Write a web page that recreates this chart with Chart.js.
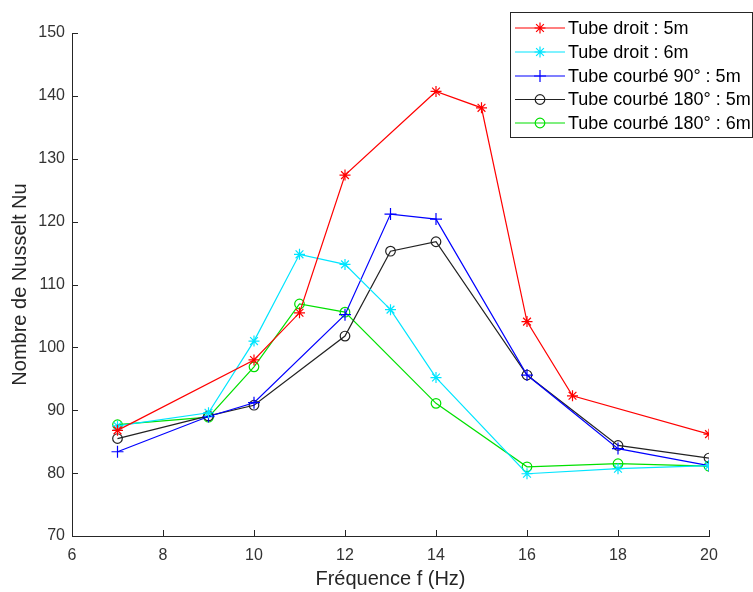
<!DOCTYPE html>
<html>
<head>
<meta charset="utf-8">
<script src="https://cdn.jsdelivr.net/npm/chart.js@4/dist/chart.umd.min.js"></script>
<style>
  html, body { margin: 0; padding: 0; background: #fff; }
  #wrap { width: 753px; height: 592px; }
</style>
</head>
<body>
<div id="wrap"><canvas id="nusseltChart" width="753" height="592"></canvas></div>
<script>
// Frequencies (Hz) and Nusselt values for each configuration
const xDroit5 = [7, 10, 11, 12, 14, 15, 16, 17, 20];
const yDroit5 = [86.8, 98.0, 105.5, 127.4, 140.7, 138.1, 104.1, 92.3, 86.2];

const xDroit6 = [7, 9, 10, 11, 12, 13, 14, 16, 18, 20];
const yDroit6 = [87.5, 89.6, 101.0, 114.8, 113.2, 106.0, 95.2, 79.9, 80.7, 81.2];

const xCourbe90 = [7, 9, 10, 12, 13, 14, 16, 18, 20];
const yCourbe90 = [83.4, 89.0, 91.2, 105.2, 121.2, 120.4, 95.6, 83.9, 81.2];

const xCourbe180_5 = [7, 9, 10, 12, 13, 14, 16, 18, 20];
const yCourbe180_5 = [85.5, 89.1, 90.8, 101.8, 115.3, 116.8, 95.6, 84.4, 82.4];

const xCourbe180_6 = [7, 9, 10, 11, 12, 14, 16, 18, 20];
const yCourbe180_6 = [87.7, 88.9, 96.9, 106.9, 105.6, 91.1, 81.0, 81.5, 81.1];

const seriesLabels = ['Tube droit : 5m', 'Tube droit : 6m', 'Tube courbé 90° : 5m', 'Tube courbé 180° : 5m', 'Tube courbé 180° : 6m'];
const xTicks = [6, 8, 10, 12, 14, 16, 18, 20];
const yTicks = [70, 80, 90, 100, 110, 120, 130, 140, 150];

const FONT = '"Liberation Sans", Arial, Helvetica, sans-serif';
const AXIS_COLOR = '#262626';

function pairs(xs, ys) {
  return xs.map((x, i) => ({ x: x, y: ys[i] }));
}

function makeSet(label, xs, ys, color, style, radius) {
  return {
    label: label,
    data: pairs(xs, ys),
    borderColor: color,
    backgroundColor: 'rgba(0,0,0,0)',
    borderWidth: 1.2,
    pointStyle: style,
    pointRadius: radius,
    pointBorderColor: color,
    pointBackgroundColor: 'rgba(0,0,0,0)',
    pointBorderWidth: 1.2,
    tension: 0
  };
}

const datasets = [
  makeSet(seriesLabels[0], xDroit5, yDroit5, '#ff0000', 'star', 5.5),
  makeSet(seriesLabels[1], xDroit6, yDroit6, '#00e5ff', 'star', 5.5),
  makeSet(seriesLabels[2], xCourbe90, yCourbe90, '#0000ff', 'cross', 6),
  makeSet(seriesLabels[3], xCourbe180_5, yCourbe180_5, '#222222', 'circle', 4.8),
  makeSet(seriesLabels[4], xCourbe180_6, yCourbe180_6, '#00e000', 'circle', 4.8)
];

// MATLAB-style inward ticks
const inwardTicks = {
  id: 'inwardTicks',
  afterDraw(chart) {
    const ctx = chart.ctx;
    const xs = chart.scales.x, ys = chart.scales.y;
    const area = chart.chartArea;
    ctx.save();
    ctx.strokeStyle = AXIS_COLOR;
    ctx.lineWidth = 1;
    ctx.beginPath();
    xTicks.forEach(v => {
      const px = Math.round(xs.getPixelForValue(v)) + 0.5;
      ctx.moveTo(px, area.bottom);
      ctx.lineTo(px, area.bottom - 6);
    });
    yTicks.forEach(v => {
      const py = Math.round(ys.getPixelForValue(v)) + 0.5;
      ctx.moveTo(area.left, py);
      ctx.lineTo(area.left + 6, py);
    });
    ctx.stroke();
    ctx.restore();
  }
};

// legend box drawn like the MATLAB one
const boxLegend = {
  id: 'boxLegend',
  afterDraw(chart) {
    const ctx = chart.ctx;
    const left = 510.5, top = 12.5, right = 752.5, bottom = 137.5;
    const rowY = [28, 52, 76, 99.5, 123];
    ctx.save();
    ctx.fillStyle = '#fff';
    ctx.fillRect(left, top, right - left, bottom - top);
    ctx.strokeStyle = AXIS_COLOR;
    ctx.lineWidth = 1;
    ctx.strokeRect(left, top, right - left, bottom - top);
    chart.data.datasets.forEach((ds, i) => {
      const y = rowY[i];
      ctx.strokeStyle = ds.borderColor;
      ctx.lineWidth = ds.borderWidth;
      ctx.beginPath();
      ctx.moveTo(515, y);
      ctx.lineTo(565, y);
      ctx.stroke();
      ctx.fillStyle = 'rgba(0,0,0,0)';
      ctx.strokeStyle = ds.pointBorderColor;
      ctx.lineWidth = ds.pointBorderWidth;
      Chart.helpers.drawPoint(ctx, {
        pointStyle: ds.pointStyle,
        radius: ds.pointRadius,
        borderWidth: ds.pointBorderWidth,
        rotation: 0
      }, 540, y);
      ctx.fillStyle = '#000';
      ctx.font = '18px ' + FONT;
      ctx.textBaseline = 'middle';
      ctx.textAlign = 'left';
      ctx.fillText(ds.label, 568, y + 1);
    });
    ctx.restore();
  }
};

const ctx = document.getElementById('nusseltChart').getContext('2d');
const chart = new Chart(ctx, {
  type: 'line',
  data: { datasets: datasets },
  plugins: [inwardTicks, boxLegend],
  options: {
    responsive: false,
    animation: false,
    layout: { padding: { top: 33, right: 44, left: 0, bottom: 0 } },
    plugins: {
      legend: { display: false },
      tooltip: { enabled: false }
    },
    scales: {
      x: {
        type: 'linear',
        min: 6,
        max: 20,
        afterFit: scale => { scale.height = 56; },
        afterBuildTicks: scale => { scale.ticks = xTicks.map(v => ({ value: v })); },
        grid: { display: true, drawOnChartArea: false, drawTicks: false, tickLength: 0 },
        border: { display: true, color: AXIS_COLOR, width: 1 },
        ticks: { color: '#333', font: { family: FONT, size: 16 }, padding: 10, maxRotation: 0 },
        title: {
          display: true,
          text: 'Fréquence f (Hz)',
          color: AXIS_COLOR,
          font: { family: FONT, size: 20 },
          padding: { top: 0, bottom: 1 }
        }
      },
      y: {
        type: 'linear',
        min: 70,
        max: 150,
        afterFit: scale => { scale.width = 72; },
        afterBuildTicks: scale => { scale.ticks = yTicks.map(v => ({ value: v })); },
        grid: { display: true, drawOnChartArea: false, drawTicks: false, tickLength: 0 },
        border: { display: true, color: AXIS_COLOR, width: 1 },
        ticks: { color: '#333', font: { family: FONT, size: 16 }, padding: 7 },
        title: {
          display: true,
          text: 'Nombre de Nusselt Nu',
          color: AXIS_COLOR,
          font: { family: FONT, size: 20 },
          padding: { top: 8, bottom: 0 }
        }
      }
    }
  }
});
</script>
</body>
</html>
